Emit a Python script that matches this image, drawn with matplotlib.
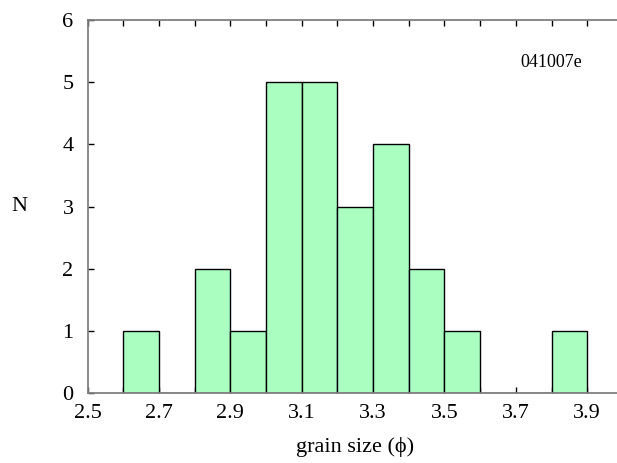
import matplotlib
matplotlib.use('Agg')
import matplotlib.pyplot as plt
import numpy as np

# histogram of grain size, bin width 0.1 phi
bin_left = [2.6, 2.7, 2.8, 2.9, 3.0, 3.1, 3.2, 3.3, 3.4, 3.5, 3.6, 3.7, 3.8]
counts = [1, 0, 2, 1, 5, 5, 3, 4, 2, 1, 0, 0, 1]
xtick_vals = [2.5, 2.7, 2.9, 3.1, 3.3, 3.5, 3.7, 3.9]
ytick_vals = [0, 1, 2, 3, 4, 5, 6]
sample_id = '041007e'

plt.rcParams['font.family'] = ['Liberation Serif', 'DejaVu Serif']

fig = plt.figure(figsize=(6.17, 4.63), dpi=100)
# axes run slightly past the right edge of the figure, as in the original
ax = fig.add_axes([87.5/617, (463-393.3)/463, (535.5)/617, (393.3-20)/463])

ax.bar(bin_left, counts, width=0.1, align='edge', color='#aaffc0',
       edgecolor='black', linewidth=1.0, zorder=2)

ax.set_xlim(2.5, 4.0)
ax.set_ylim(0, 6)
ax.set_xticks(xtick_vals)
ax.set_xticklabels(['%.1f' % v for v in xtick_vals])
ax.set_xticks(np.round(np.arange(2.6, 4.0, 0.2), 1), minor=True)
ax.set_yticks(ytick_vals)

for s in ['left', 'top', 'bottom']:
    ax.spines[s].set_color('#808080')
    ax.spines[s].set_linewidth(1.3)
ax.spines['right'].set_visible(False)

ax.tick_params(which='both', direction='in', length=4, width=1.0, color='black',
               top=True, bottom=True, left=True, right=False, labelsize=16)
ax.tick_params(axis='x', pad=8)
ax.tick_params(axis='y', pad=10)

ax.text(3.80, 5.32, sample_id, fontsize=13, ha='center', va='center')
ax.set_xlabel('grain size (\u03d5)', fontsize=16, labelpad=10)
ax.set_ylabel('N', fontsize=16, rotation=0, labelpad=31, va='center')

fig.savefig('out.png', dpi=100)
